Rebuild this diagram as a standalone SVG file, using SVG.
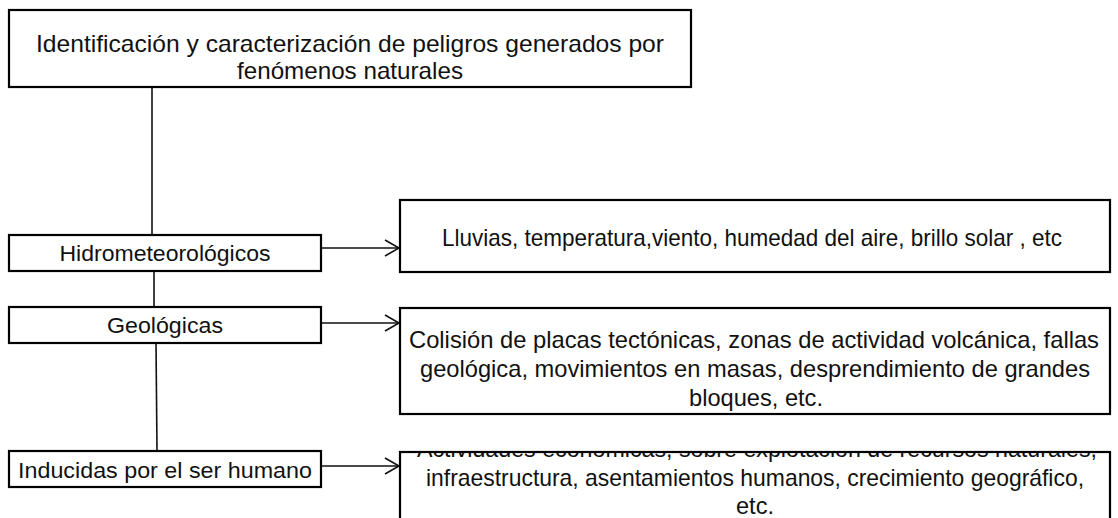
<svg xmlns="http://www.w3.org/2000/svg" width="1118" height="518" viewBox="0 0 1118 518">
<style>
.box{fill:#fff;stroke:#000;stroke-width:2.2}
.t{font-family:"Liberation Sans",Arial,sans-serif;fill:#111;text-anchor:middle}
.big{font-size:24px}
.lbl{font-size:22px}
.ln{stroke:#111;stroke-width:1.6;fill:none}
</style>
<defs>
<marker id="ah" markerUnits="userSpaceOnUse" markerWidth="18" markerHeight="20" refX="15" refY="9" orient="auto">
<path d="M1,1 L15,9 L1,17" fill="none" stroke="#111" stroke-width="1.6"/>
</marker>
<clipPath id="clipBottom"><rect x="400" y="453" width="711" height="70"/></clipPath>
</defs>
<rect width="1118" height="518" fill="#fff"/>
<g id="connectors">
<line class="ln" x1="152" y1="87" x2="152" y2="235"/>
<line class="ln" x1="154" y1="271" x2="154" y2="307"/>
<line class="ln" x1="156" y1="343" x2="157" y2="451"/>
<line class="ln" x1="322" y1="248" x2="399" y2="248" marker-end="url(#ah)"/>
<line class="ln" x1="322" y1="323" x2="399" y2="323" marker-end="url(#ah)"/>
<line class="ln" x1="322" y1="466" x2="399" y2="466" marker-end="url(#ah)"/>
</g>
<g id="root">
<rect class="box" x="9" y="10" width="682" height="77" stroke-width="2.8"/>
<text class="t big" x="350" y="52" textLength="628" lengthAdjust="spacingAndGlyphs">Identificación y caracterización de peligros generados por</text>
<text class="t big" x="350" y="79" textLength="226" lengthAdjust="spacingAndGlyphs">fenómenos naturales</text>
</g>
<g id="hidro">
<rect class="box" x="9" y="235" width="312" height="36"/>
<text class="t lbl" x="165" y="261" textLength="211" lengthAdjust="spacingAndGlyphs">Hidrometeorológicos</text>
</g>
<g id="geo">
<rect class="box" x="9" y="307" width="312" height="36"/>
<text class="t lbl" x="165" y="333" textLength="116" lengthAdjust="spacingAndGlyphs">Geológicas</text>
</g>
<g id="inducidas">
<rect class="box" x="9" y="451" width="312" height="36"/>
<text class="t lbl" x="165" y="478" textLength="294" lengthAdjust="spacingAndGlyphs">Inducidas por el ser humano</text>
</g>
<g id="hidro-desc">
<rect class="box" x="400" y="200" width="710" height="72"/>
<text class="t big" x="752" y="246" textLength="620" lengthAdjust="spacingAndGlyphs">Lluvias, temperatura,viento, humedad del aire, brillo solar , etc</text>
</g>
<g id="geo-desc">
<rect class="box" x="400" y="308" width="710" height="106"/>
<text class="t big" x="754" y="348" textLength="690" lengthAdjust="spacingAndGlyphs">Colisión de placas tectónicas, zonas de actividad volcánica, fallas</text>
<text class="t big" x="755" y="377" textLength="670" lengthAdjust="spacingAndGlyphs">geológica, movimientos en masas, desprendimiento de grandes</text>
<text class="t big" x="756" y="406" textLength="134" lengthAdjust="spacingAndGlyphs">bloques, etc.</text>
</g>
<g id="inducidas-desc">
<rect class="box" x="400" y="452" width="710" height="80"/>
<g clip-path="url(#clipBottom)">
<text class="t big" x="757" y="457" textLength="680" lengthAdjust="spacingAndGlyphs">Actividades económicas, sobre explotación de recursos naturales,</text>
</g>
<text class="t big" x="755" y="486" textLength="658" lengthAdjust="spacingAndGlyphs">infraestructura, asentamientos humanos, crecimiento geográfico,</text>
<text class="t big" x="755" y="514" textLength="38" lengthAdjust="spacingAndGlyphs">etc.</text>
</g>
</svg>
